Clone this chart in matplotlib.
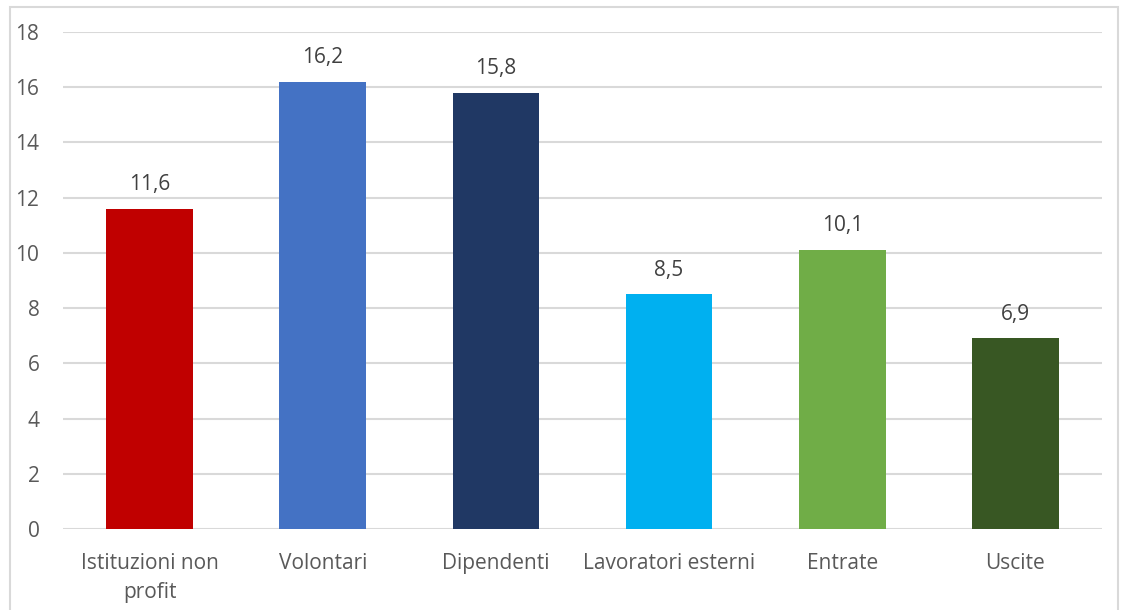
import matplotlib.pyplot as plt
from matplotlib.patches import Rectangle

categories = ['Istituzioni non\nprofit', 'Volontari', 'Dipendenti',
              'Lavoratori esterni', 'Entrate', 'Uscite']
values = [11.6, 16.2, 15.8, 8.5, 10.1, 6.9]
colors = ['#C00000', '#4472C4', '#203864', '#00B0F0', '#70AD47', '#385723']
y_ticks = [0, 2, 4, 6, 8, 10, 12, 14, 16, 18]

plt.rcParams['font.family'] = ['Open Sans', 'DejaVu Sans']
text_color = '#595959'
grid_color = '#d9d9d9'

fig = plt.figure(figsize=(11.27, 6.10), dpi=100)
ax = fig.add_axes([0.0559, 0.1328, 0.9219, 0.8147])

# outer chart frame
fig.patches.append(Rectangle((10 / 1127, -0.05), 1108 / 1127, 1 - 7 / 610 + 0.05,
                             transform=fig.transFigure, fill=False,
                             edgecolor=grid_color, linewidth=1.5))

x = range(len(categories))
bars = ax.bar(x, values, width=0.5, color=colors, zorder=3)

for bar, v in zip(bars, values):
    ax.text(bar.get_x() + bar.get_width() / 2, v + 0.5, f'{v:.1f}'.replace('.', ','),
            ha='center', va='bottom', fontsize=15, color='#404040')

ax.set_xlim(-0.5, len(categories) - 0.5)
ax.set_ylim(0, 18)
ax.set_yticks(y_ticks)
ax.set_xticks(list(x))
ax.set_xticklabels(categories, linespacing=1.5)
ax.tick_params(axis='both', length=0, labelsize=15, colors=text_color)
ax.tick_params(axis='y', pad=17)
ax.tick_params(axis='x', pad=17)

ax.yaxis.grid(True, color=grid_color, linewidth=1.5, zorder=0)
for s in ax.spines.values():
    s.set_visible(False)

fig.savefig('out.png', dpi=100)
